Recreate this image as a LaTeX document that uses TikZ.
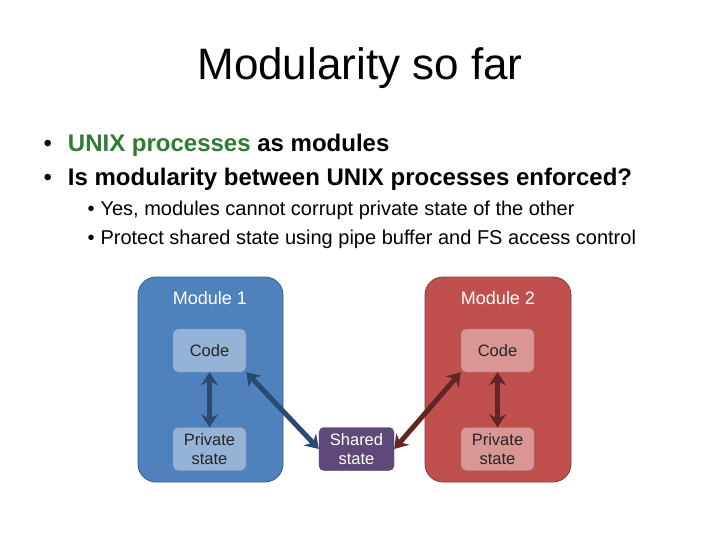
\documentclass[tikz,border=0pt]{standalone}
\usepackage{fontspec}
\setmainfont{Liberation Sans}
\usetikzlibrary{arrows.meta}
\definecolor{mblue}{HTML}{4F81BD}
\definecolor{mbluel}{HTML}{95B3D7}
\definecolor{mbdark}{HTML}{2B4A6F}
\definecolor{mred}{HTML}{C0504D}
\definecolor{mredl}{HTML}{D99694}
\definecolor{mrdark}{HTML}{632523}
\definecolor{mpurple}{HTML}{5F497A}
\definecolor{tgreen}{HTML}{2E7D32}
\begin{document}
\begin{tikzpicture}[x=1pt,y=-1pt,
 module/.style={rounded corners=18pt,draw=#1!70!black,fill=#1,line width=0.8pt},
 inner/.style={rounded corners=5pt,draw=#1!80!black,fill=#1,minimum width=73pt,minimum height=43pt,align=center,font=\fontsize{16.5}{19}\selectfont,text=black!85},
 arr/.style={{Stealth[length=13pt,width=17pt]}-{Stealth[length=13pt,width=17pt]},line width=5pt,draw=#1},
 txt/.style={anchor=west,font=\fontsize{24}{28}\selectfont},
 stxt/.style={anchor=west,font=\fontsize{20}{24}\selectfont}]
\useasboundingbox[fill=white] (0,0) rectangle (720,540);
\node (title) at (360,68) {\fontsize{44}{52}\selectfont Modularity so far};
\node[txt] (b1) at (40,145) {•\hspace{16pt}\textcolor{tgreen}{\textbf{UNIX processes}} \textbf{as modules}};
\node[txt] (b2) at (40,179) {•\hspace{16pt}\textbf{Is modularity between UNIX processes enforced?}};
\node[stxt] (s1) at (84,210) {•\hspace{6pt}Yes, modules cannot corrupt private state of the other};
\node[stxt] (s2) at (84,239) {•\hspace{6pt}Protect shared state using pipe buffer and FS access control};
\draw[module=mblue] (138,277) rectangle (283,482);
\draw[module=mred] (425,277) rectangle (571,482);
\node[text=white,font=\fontsize{18}{21}\selectfont] (m1) at (210,298) {Module 1};
\node[text=white,font=\fontsize{18}{21}\selectfont] (m2) at (498,298) {Module 2};
\node[inner=mbluel] (c1) at (209.5,350.5) {Code};
\node[inner=mbluel] (p1) at (209.5,449) {Private\\state};
\node[inner=mredl] (c2) at (497.5,350.5) {Code};
\node[inner=mredl] (p2) at (497.5,449) {Private\\state};
\node[inner=mpurple,minimum width=75pt,text=white] (sh) at (356.5,449) {Shared\\state};
\draw[arr=mbdark] (c1.south) -- (p1.north);
\draw[arr=mrdark] (c2.south) -- (p2.north);
\draw[arr=mbdark] (c1.south east) -- (sh.west);
\draw[arr=mrdark] (c2.south west) -- (sh.east);
\end{tikzpicture}
\end{document}
